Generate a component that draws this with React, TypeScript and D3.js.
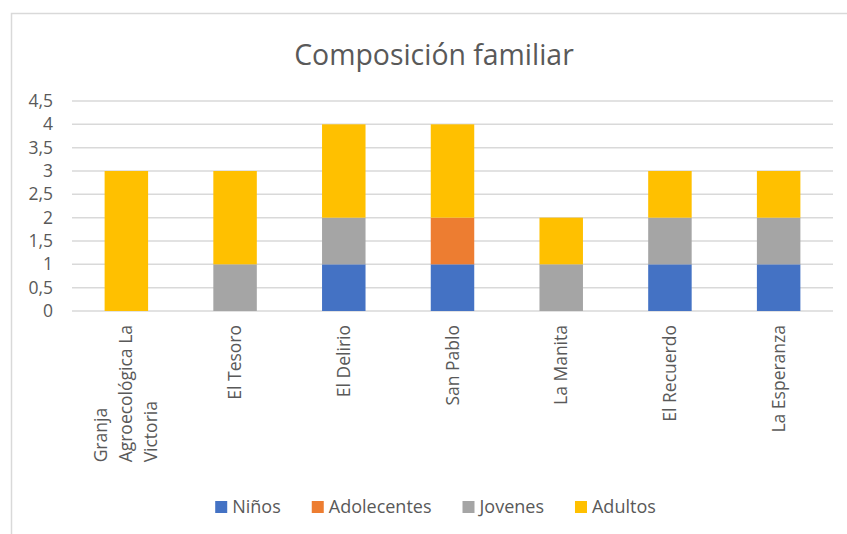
import React from "react";
import * as d3 from "d3";

const categories = [
  "Granja Agroecológica La Victoria",
  "El Tesoro",
  "El Delirio",
  "San Pablo",
  "La Manita",
  "El Recuerdo",
  "La Esperanza",
];
const seriesNames = ["Niños", "Adolecentes", "Jovenes", "Adultos"];
const ninos = [0, 0, 1, 1, 0, 1, 1];
const adolecentes = [0, 0, 0, 1, 0, 0, 0];
const jovenes = [0, 1, 1, 0, 1, 1, 1];
const adultos = [3, 2, 2, 2, 1, 1, 1];
const yTicks = [0, 0.5, 1, 1.5, 2, 2.5, 3, 3.5, 4, 4.5];
const colors = ["#4472C4", "#ED7D31", "#A5A5A5", "#FFC000"];

const W = 847;
const H = 534;
const FONT = "'Open Sans', 'Noto Sans', sans-serif";
const TXT = "#595959";
const FS = 17.5;

let ctx: CanvasRenderingContext2D | null = null;
function measure(t: string, size = FS) {
  if (!ctx) ctx = document.createElement("canvas").getContext("2d");
  if (!ctx) return t.length * size * 0.55;
  ctx.font = `${size}px 'Open Sans'`;
  return ctx.measureText(t).width;
}

function wrap(label: string, maxW: number) {
  const words = label.split(" ");
  const lines: string[] = [];
  let cur = "";
  for (const w of words) {
    const trial = cur ? cur + " " + w : w;
    if (cur && measure(trial) > maxW) {
      lines.push(cur);
      cur = w;
    } else cur = trial;
  }
  if (cur) lines.push(cur);
  return lines;
}

export default function App() {
  const rows = categories.map((c, i) => ({
    cat: c,
    [seriesNames[0]]: ninos[i],
    [seriesNames[1]]: adolecentes[i],
    [seriesNames[2]]: jovenes[i],
    [seriesNames[3]]: adultos[i],
  }));
  const stacked = d3.stack<any>().keys(seriesNames)(rows);

  const x = d3
    .scaleBand<string>()
    .domain(categories)
    .range([72, 833])
    .paddingInner(0.6)
    .paddingOuter(0.3);
  const y = d3.scaleLinear().domain([0, 4.5]).range([311, 101]);
  const fmt = (v: number) => d3.format("")(v).replace(".", ",");

  const labelTop = 325;
  const lineH = 25;

  // legend layout
  const LFS = 18;
  const sq = 12;
  const gapSqText = 5;
  const gapItems = 31;
  const widths = seriesNames.map((s) => sq + gapSqText + measure(s, LFS));
  const total = d3.sum(widths) + gapItems * (seriesNames.length - 1);
  let lx = 435.5 - total / 2;
  const legendPos = widths.map((w) => {
    const p = lx;
    lx += w + gapItems;
    return p;
  });
  const legendY = 507;

  return (
    <svg
      width={W}
      height={H}
      style={{ position: "absolute", left: 0, top: 0, background: "#fff" }}
      fontFamily={FONT}
    >
      <rect x={0} y={0} width={W} height={H} fill="#fff" />
      <rect
        x={11.5}
        y={13.5}
        width={W + 20}
        height={H + 20}
        fill="#fff"
        stroke="#D9D9D9"
        strokeWidth={1.5}
      />
      <text x={434} y={65} textAnchor="middle" fontSize={28.4} fill={TXT}>
        Composición familiar
      </text>

      {yTicks.map((t) => (
        <g key={t}>
          <line
            x1={72}
            x2={833}
            y1={y(t)}
            y2={y(t)}
            stroke="#D9D9D9"
            strokeWidth={1.5}
          />
          <text
            x={53}
            y={y(t)}
            dy="0.35em"
            textAnchor="end"
            fontSize={FS}
            fill={TXT}
          >
            {fmt(t)}
          </text>
        </g>
      ))}

      {stacked.map((s, si) => (
        <g key={s.key} fill={colors[si]}>
          {s.map((d, i) =>
            d[1] - d[0] > 0 ? (
              <rect
                key={i}
                x={x(categories[i])}
                width={x.bandwidth()}
                y={y(d[1])}
                height={y(d[0]) - y(d[1])}
              />
            ) : null
          )}
        </g>
      ))}

      {categories.map((c) => {
        const lines = wrap(c, 140);
        const cx = (x(c) as number) + x.bandwidth() / 2;
        const maxW = d3.max(lines, (l) => measure(l)) as number;
        const startY = labelTop + maxW;
        return (
          <g key={c}>
            {lines.map((l, li) => {
              const lxp = cx + (li - (lines.length - 1) / 2) * lineH;
              return (
                <text
                  key={li}
                  transform={`translate(${lxp},${startY}) rotate(-90)`}
                  textAnchor="start"
                  dy="0.35em"
                  fontSize={FS}
                  fill={TXT}
                >
                  {l}
                </text>
              );
            })}
          </g>
        );
      })}

      {seriesNames.map((s, i) => (
        <g key={s} transform={`translate(${legendPos[i]},${legendY})`}>
          <rect x={0} y={-sq / 2} width={sq} height={sq} fill={colors[i]} />
          <text
            x={sq + gapSqText}
            y={0}
            dy="0.35em"
            fontSize={LFS}
            fill={TXT}
          >
            {s}
          </text>
        </g>
      ))}
    </svg>
  );
}
